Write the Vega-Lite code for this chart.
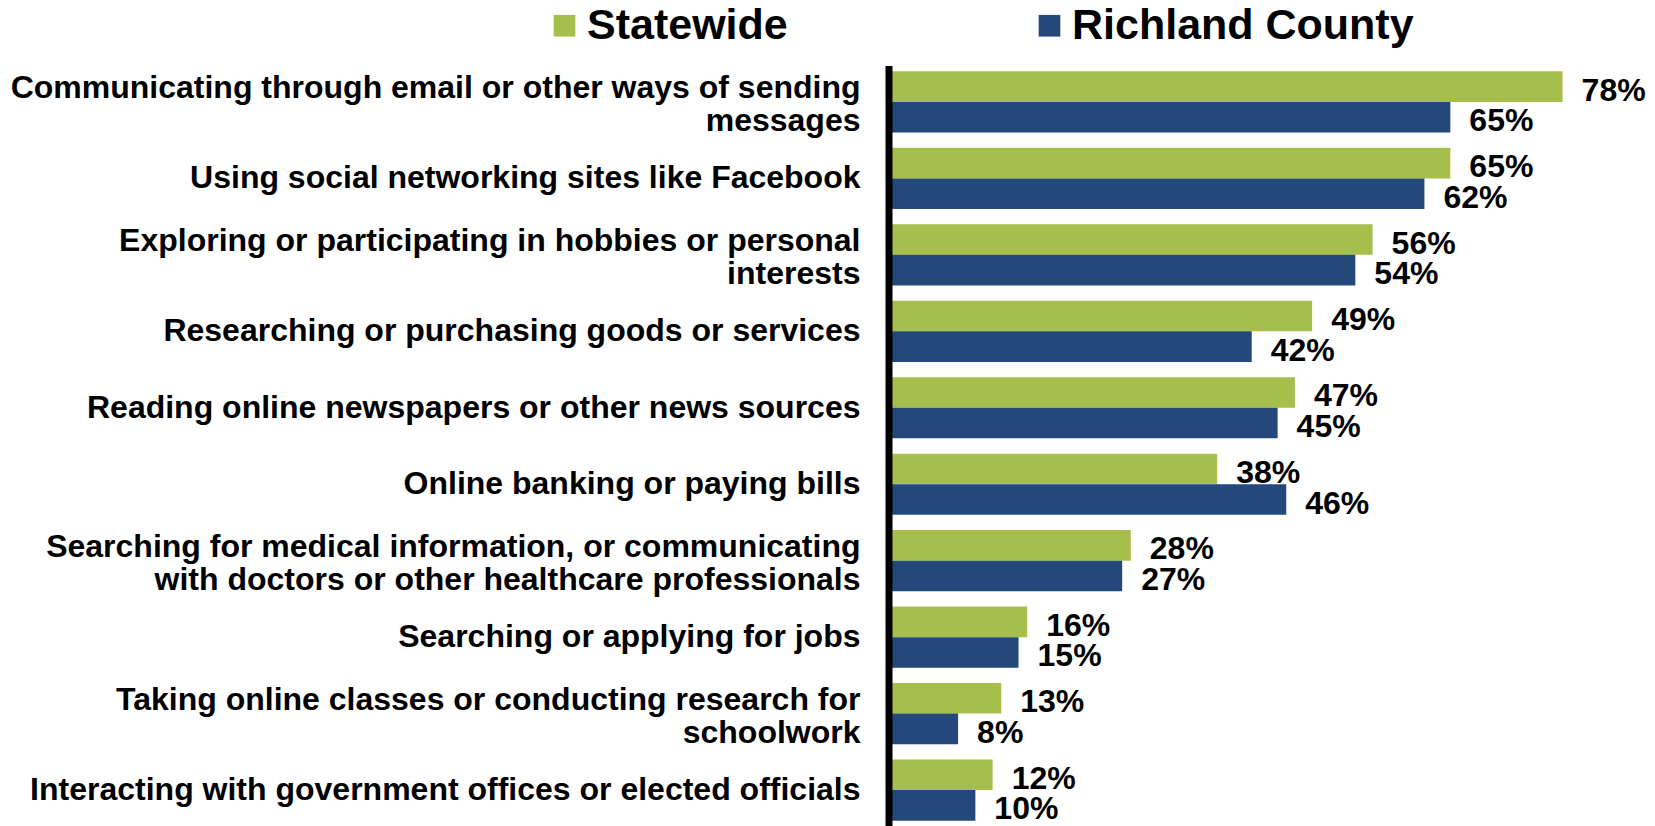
{
  "$schema": "https://vega.github.io/schema/vega-lite/v6.json",
  "width": 766,
  "height": 760,
  "autosize": {"type": "none"},
  "padding": {"left": 889, "top": 66, "right": 0, "bottom": 0},
  "background": "white",
  "config": {"view": {"stroke": null}, "font": "Liberation Sans"},
  "data": {
    "values": [
      {"activity": "Communicating through email or other ways of sending\nmessages", "area": "Statewide", "share": 0.78},
      {"activity": "Communicating through email or other ways of sending\nmessages", "area": "Richland County", "share": 0.65},
      {"activity": "Using social networking sites like Facebook", "area": "Statewide", "share": 0.65},
      {"activity": "Using social networking sites like Facebook", "area": "Richland County", "share": 0.62},
      {"activity": "Exploring or participating in hobbies or personal\ninterests", "area": "Statewide", "share": 0.56},
      {"activity": "Exploring or participating in hobbies or personal\ninterests", "area": "Richland County", "share": 0.54},
      {"activity": "Researching or purchasing goods or services", "area": "Statewide", "share": 0.49},
      {"activity": "Researching or purchasing goods or services", "area": "Richland County", "share": 0.42},
      {"activity": "Reading online newspapers or other news sources", "area": "Statewide", "share": 0.47},
      {"activity": "Reading online newspapers or other news sources", "area": "Richland County", "share": 0.45},
      {"activity": "Online banking or paying bills", "area": "Statewide", "share": 0.38},
      {"activity": "Online banking or paying bills", "area": "Richland County", "share": 0.46},
      {"activity": "Searching for medical information, or communicating\nwith doctors or other healthcare professionals", "area": "Statewide", "share": 0.28},
      {"activity": "Searching for medical information, or communicating\nwith doctors or other healthcare professionals", "area": "Richland County", "share": 0.27},
      {"activity": "Searching or applying for jobs", "area": "Statewide", "share": 0.16},
      {"activity": "Searching or applying for jobs", "area": "Richland County", "share": 0.15},
      {"activity": "Taking online classes or conducting research for\nschoolwork", "area": "Statewide", "share": 0.13},
      {"activity": "Taking online classes or conducting research for\nschoolwork", "area": "Richland County", "share": 0.08},
      {"activity": "Interacting with government offices or elected officials", "area": "Statewide", "share": 0.12},
      {"activity": "Interacting with government offices or elected officials", "area": "Richland County", "share": 0.10}
    ]
  },
  "encoding": {
    "y": {
      "field": "activity",
      "type": "nominal",
      "sort": null,
      "scale": {"paddingInner": 0.2, "paddingOuter": 0.07},
      "axis": {
        "title": null,
        "domain": false,
        "ticks": false,
        "grid": false,
        "labelFontSize": 32,
        "labelFontWeight": "bold",
        "labelColor": "black",
        "labelPadding": 29,
        "labelLimit": 0,
        "labelLineHeight": 33,
        "labelOffset": {"condition": {"test": "indexof(datum.label, '\\n') >= 0", "value": -14}, "value": 0},
        "labelExpr": "split(datum.label, '\\n')"
      }
    },
    "yOffset": {
      "field": "area",
      "type": "nominal",
      "sort": ["Statewide", "Richland County"],
      "scale": {"paddingInner": 0, "paddingOuter": 0}
    },
    "x": {
      "field": "share",
      "type": "quantitative",
      "scale": {"domain": [0, 0.887], "nice": false},
      "axis": null
    }
  },
  "layer": [
    {
      "mark": {"type": "bar"},
      "encoding": {
        "color": {
          "field": "area",
          "type": "nominal",
          "scale": {"domain": ["Statewide", "Richland County"], "range": ["#A6BE4C", "#234879"]},
          "legend": {
            "title": null,
            "orient": "none",
            "legendX": -346,
            "legendY": -62,
            "direction": "horizontal",
            "symbolType": "square",
            "symbolSize": 470,
            "symbolStrokeWidth": 0,
            "symbolOpacity": 1,
            "labelFontSize": 43,
            "labelFontWeight": "bold",
            "labelColor": "black",
            "labelOffset": 1,
            "columnPadding": 240,
            "labelLimit": 0
          }
        }
      }
    },
    {
      "mark": {"type": "text", "align": "left", "baseline": "middle", "dx": 19, "dy": 4, "fontSize": 32, "fontWeight": "bold", "color": "black"},
      "encoding": {
        "text": {"field": "share", "type": "quantitative", "format": ".0%"}
      }
    },
    {
      "data": {"values": [{"zero": 0}]},
      "mark": {"type": "rule", "color": "black", "strokeWidth": 7},
      "encoding": {
        "x": {"field": "zero", "type": "quantitative"},
        "y": null,
        "yOffset": null
      }
    }
  ]
}
